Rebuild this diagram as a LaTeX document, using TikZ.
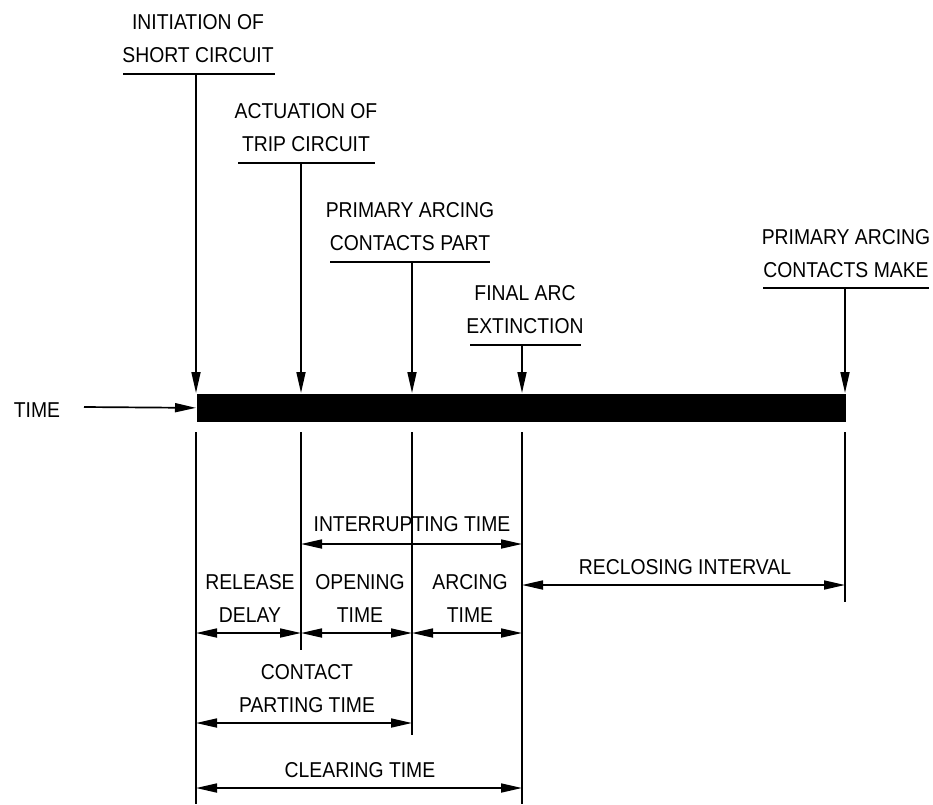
\documentclass[tikz,border=0pt]{standalone}
\usepackage{fontspec}
\setmainfont[FakeStretch=0.9]{Liberation Sans}
\usetikzlibrary{arrows.meta}
\begin{document}
\begin{tikzpicture}[x=1pt,y=-1pt,line width=1.7pt,
  lbl/.style={font=\fontsize{21.5}{33}\selectfont, align=center, inner sep=0pt, text depth=0pt, anchor=south},
  tip/.style={-{Triangle[length=21pt,width=9pt]}},
  dim/.style={{Triangle[length=21pt,width=9pt]}-{Triangle[length=21pt,width=9pt]}}]
\useasboundingbox (0,0) rectangle (933,804);

% time bar
\node[fill=black, minimum width=649pt, minimum height=28pt, inner sep=0pt, anchor=north west] (bar) at (196,393) {};

% event labels
\node[lbl] (init) at (198,63) {INITIATION OF\\SHORT CIRCUIT};
\node[lbl] (act) at (306,152) {ACTUATION OF\\TRIP CIRCUIT};
\node[lbl] (part) at (410,251) {PRIMARY ARCING\\CONTACTS PART};
\node[lbl] (ext) at (525,334) {FINAL ARC\\EXTINCTION};
\node[lbl] (make) at (846,278) {PRIMARY ARCING\\CONTACTS MAKE};
\node[lbl, anchor=base] (time) at (37,417) {TIME};

% underlines
\draw (123,74) -- (275,74);
\draw (238,163) -- (375,163);
\draw (330,262) -- (490,262);
\draw (470,345) -- (581,345);
\draw (763,288) -- (929,288);

% event arrows
\draw[tip] (196,74) -- (196,393);
\draw[tip] (301,163) -- (301,393);
\draw[tip] (412,262) -- (412,393);
\draw[tip] (522,345) -- (522,393);
\draw[tip] (845,288) -- (845,393);
\draw[tip] (84,407) -- (bar.west);

% extension lines
\draw (196,432) -- (196,804);
\draw (301,432) -- (301,650);
\draw (412,432) -- (412,735);
\draw (522,432) -- (522,804);
\draw (845,432) -- (845,602);

% dimensions
\node[lbl] (intr) at (412,532) {INTERRUPTING TIME};
\draw[dim] (301,544) -- (522,544);
\node[lbl] (recl) at (685,575) {RECLOSING INTERVAL};
\draw[dim] (522,585) -- (845,585);
\node[lbl] (rel) at (250,623) {RELEASE\\DELAY};
\node[lbl] (open) at (360,623) {OPENING\\TIME};
\node[lbl] (arc) at (470,623) {ARCING\\TIME};
\draw[dim] (196,633) -- (301,633);
\draw[dim] (301,633) -- (412,633);
\draw[dim] (412,633) -- (522,633);
\node[lbl] (cpt) at (307,713) {CONTACT\\PARTING TIME};
\draw[dim] (196,723) -- (412,723);
\node[lbl] (clr) at (360,778) {CLEARING TIME};
\draw[dim] (196,788) -- (522,788);
\end{tikzpicture}
\end{document}
